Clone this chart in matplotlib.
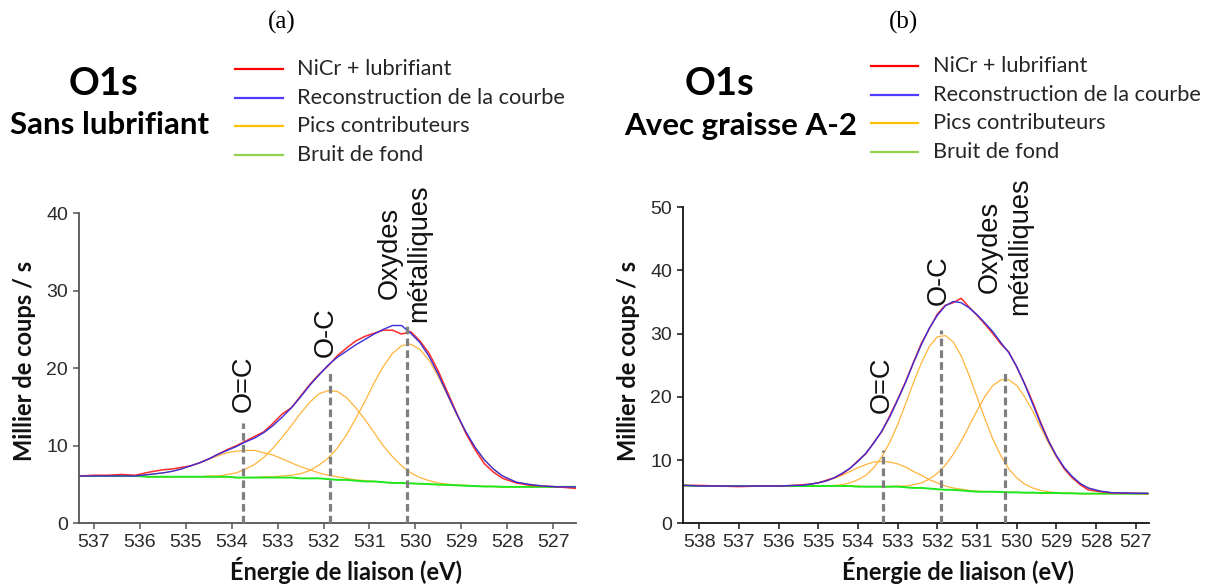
import matplotlib
matplotlib.use("Agg")
import matplotlib.pyplot as plt
from matplotlib.lines import Line2D

# ---- (a) sans lubrifiant : values ----
energy_a = [537.3, 537.0, 536.7, 536.4, 536.1, 535.8, 535.5, 535.3, 535.1, 534.9, 534.7, 534.5, 534.3,
            534.1, 533.9, 533.7, 533.5, 533.3, 533.1, 532.9, 532.7, 532.5, 532.3, 532.1, 531.9, 531.7,
            531.5, 531.3, 531.1, 530.9, 530.7, 530.5, 530.3, 530.1, 529.9, 529.7, 529.5, 529.3, 529.1,
            528.9, 528.7, 528.5, 528.3, 528.1, 527.8, 527.5, 527.2, 526.9, 526.5]
mesure_a = [6.1, 6.2, 6.2, 6.3, 6.2, 6.6, 6.9, 7.0, 7.2, 7.4, 7.8, 8.3, 8.9, 9.5, 10.0, 10.6, 11.2, 11.8,
            12.9, 14.1, 14.9, 16.4, 17.9, 19.2, 20.3, 21.6, 22.6, 23.5, 24.1, 24.5, 24.9, 24.9, 24.4, 24.7,
            23.5, 21.9, 19.6, 16.9, 14.2, 11.6, 9.5, 7.7, 6.6, 5.8, 5.2, 4.9, 4.8, 4.7, 4.5]
recon_a = [6.1, 6.1, 6.1, 6.1, 6.1, 6.3, 6.5, 6.7, 7.0, 7.4, 7.8, 8.3, 8.9, 9.4, 9.9, 10.5, 11.0, 11.7,
           12.6, 13.7, 14.9, 16.3, 17.8, 19.1, 20.4, 21.4, 22.2, 23.0, 23.7, 24.4, 25.0, 25.5, 25.5, 24.5,
           23.3, 21.5, 19.2, 16.6, 14.1, 11.8, 9.8, 8.2, 7.0, 6.1, 5.3, 5.0, 4.8, 4.7, 4.7]
pic_OdC_a = [6.1, 6.1, 6.1, 6.1, 6.1, 6.3, 6.5, 6.7, 7.0, 7.4, 7.8, 8.3, 8.7, 9.1, 9.3, 9.4, 9.4, 9.1,
             8.8, 8.3, 7.8, 7.3, 6.9, 6.5, 6.2, 6.0, 5.8, 5.6, 5.5, 5.4, 5.3, 5.2, 5.2, 5.15, 5.1, 5.05,
             5.0, 4.95, 4.9, 4.85, 4.8, 4.75, 4.75, 4.7, 4.7, 4.7, 4.7, 4.7, 4.7]
pic_OC_a = [6.1, 6.1, 6.1, 6.1, 6.1, 6.0, 6.0, 6.0, 6.0, 6.0, 6.0, 6.1, 6.1, 6.3, 6.5, 7.0, 7.6, 8.5,
            9.7, 11.1, 12.6, 14.2, 15.6, 16.7, 17.1, 17.0, 16.2, 14.9, 13.4, 11.7, 10.0, 8.6, 7.4, 6.5,
            5.9, 5.5, 5.2, 5.05, 4.95, 4.9, 4.8, 4.75, 4.75, 4.7, 4.7, 4.7, 4.7, 4.7, 4.7]
pic_ox_a = [6.1, 6.1, 6.1, 6.1, 6.1, 6.0, 6.0, 6.0, 6.0, 6.0, 6.0, 6.0, 6.0, 6.0, 5.9, 5.9, 5.9, 6.0,
            6.0, 6.1, 6.2, 6.4, 6.8, 7.5, 8.4, 9.7, 11.4, 13.5, 15.7, 18.1, 20.2, 21.9, 22.9, 23.1, 22.4,
            21.0, 18.9, 16.5, 14.0, 11.7, 9.8, 8.2, 7.0, 6.1, 5.3, 5.0, 4.8, 4.7, 4.7]
fond_a = [6.1, 6.1, 6.1, 6.1, 6.1, 6.0, 6.0, 6.0, 6.0, 6.0, 6.0, 6.0, 6.0, 6.0, 5.9, 5.9, 5.9, 5.9, 5.9,
          5.9, 5.9, 5.8, 5.8, 5.8, 5.7, 5.6, 5.6, 5.5, 5.4, 5.4, 5.3, 5.2, 5.2, 5.15, 5.1, 5.05, 5.0,
          4.95, 4.9, 4.85, 4.8, 4.75, 4.75, 4.7, 4.7, 4.7, 4.7, 4.7, 4.7]
pics_pos_a = [533.75, 531.85, 530.18]
pics_haut_a = [12.9, 19.8, 25.9]

# ---- (b) avec graisse A-2 ----
energy_b = [538.4, 538.0, 537.5, 537.0, 536.5, 536.0, 535.6, 535.4, 535.2, 535.0, 534.8, 534.6, 534.4,
            534.2, 534.0, 533.8, 533.6, 533.4, 533.2, 533.0, 532.8, 532.6, 532.4, 532.2, 532.0, 531.8,
            531.6, 531.4, 531.2, 531.0, 530.8, 530.6, 530.4, 530.2, 530.0, 529.8, 529.6, 529.4, 529.2,
            529.0, 528.8, 528.6, 528.4, 528.2, 527.9, 527.6, 527.3, 527.0, 526.7]
mesure_b = [6.0, 6.0, 5.9, 5.8, 5.9, 5.9, 6.0, 6.1, 6.2, 6.4, 6.8, 7.2, 7.8, 8.7, 9.9, 11.0, 12.8, 14.5,
            17.0, 19.6, 22.4, 25.5, 28.5, 30.8, 33.1, 34.5, 34.9, 35.6, 34.2, 32.9, 31.5, 30.0, 28.4, 27.1,
            24.7, 22.1, 19.2, 16.0, 13.1, 10.6, 8.6, 7.2, 6.1, 5.3, 5.0, 4.8, 4.8, 4.75, 4.7]
recon_b = [6.0, 5.9, 5.9, 5.9, 5.9, 5.9, 6.0, 6.0, 6.2, 6.4, 6.7, 7.2, 7.9, 8.7, 9.8, 11.1, 12.7, 14.6,
           16.8, 19.5, 22.3, 25.4, 28.3, 30.9, 32.9, 34.4, 35.1, 34.9, 34.1, 33.0, 31.7, 30.3, 28.6, 27.0,
           24.8, 22.0, 18.9, 15.8, 13.0, 10.7, 8.8, 7.4, 6.3, 5.6, 5.1, 4.85, 4.8, 4.75, 4.75]
pic_OdC_b = [6.0, 5.9, 5.9, 5.9, 5.9, 5.9, 6.0, 6.0, 6.2, 6.4, 6.7, 7.1, 7.6, 8.2, 8.8, 9.3, 9.7, 9.8,
             9.7, 9.4, 8.9, 8.2, 7.6, 6.9, 6.4, 5.9, 5.6, 5.4, 5.2, 5.1, 5.0, 5.0, 4.95, 4.9, 4.9, 4.85,
             4.85, 4.8, 4.8, 4.8, 4.75, 4.75, 4.7, 4.7, 4.7, 4.7, 4.7, 4.7, 4.7]
pic_OC_b = [6.0, 5.9, 5.9, 5.9, 5.9, 5.9, 5.9, 5.9, 5.9, 5.9, 5.9, 6.0, 6.1, 6.4, 6.9, 7.6, 8.8, 10.5,
            12.8, 15.6, 18.9, 22.3, 25.4, 28.0, 29.5, 29.7, 28.7, 26.5, 23.4, 20.0, 16.5, 13.3, 10.7, 8.6,
            7.2, 6.2, 5.6, 5.2, 5.0, 4.85, 4.8, 4.75, 4.7, 4.7, 4.7, 4.7, 4.7, 4.7, 4.7]
pic_ox_b = [6.0, 5.9, 5.9, 5.9, 5.9, 5.9, 5.9, 5.9, 5.9, 5.9, 5.9, 5.9, 5.9, 5.9, 5.9, 5.8, 5.8, 5.8,
            5.8, 5.9, 5.9, 6.1, 6.4, 7.0, 7.9, 9.2, 10.9, 13.0, 15.4, 17.8, 20.1, 21.8, 22.7, 22.7, 21.8,
            20.0, 17.8, 15.2, 12.7, 10.5, 8.7, 7.3, 6.3, 5.6, 5.1, 4.8, 4.7, 4.7, 4.7]
fond_b = [6.0, 5.9, 5.9, 5.9, 5.9, 5.9, 5.9, 5.9, 5.9, 5.9, 5.9, 5.9, 5.9, 5.9, 5.8, 5.8, 5.8, 5.8, 5.8,
          5.8, 5.7, 5.6, 5.6, 5.5, 5.4, 5.3, 5.3, 5.2, 5.1, 5.0, 5.0, 5.0, 4.95, 4.9, 4.9, 4.85, 4.85,
          4.8, 4.8, 4.8, 4.75, 4.75, 4.7, 4.7, 4.7, 4.7, 4.7, 4.7, 4.7]
pics_pos_b = [533.38, 531.9, 530.3]
pics_haut_b = [11.6, 30.6, 24.3]

leg_labels = ["NiCr + lubrifiant", "Reconstruction de la courbe", "Pics contributeurs", "Bruit de fond"]
leg_colors = ["#ff0000", "#4f3cff", "#ffc000", "#92d050"]

C_RED = "#ff2a2a"
C_BLUE = "#3a2ed8"
C_ORANGE = "#ffb43c"
C_GREEN = "#1ee81e"
TXT = "Lato"
NUM = "Liberation Sans"

W, H = 1213, 588
fig = plt.figure(figsize=(W / 100, H / 100), dpi=100)


def px(x, y):
    return x / W, 1 - y / H


def spectre(ax, e, mes, rec, pics, fond, spine_col):
    for p in pics:
        ax.plot(e, p, color=C_ORANGE, lw=0.9)
    ax.plot(e, fond, color=C_GREEN, lw=1.4)
    ax.plot(e, mes, color=C_RED, lw=1.1)
    ax.plot(e, rec, color=C_BLUE, lw=1.0)
    for s in ["top", "right"]:
        ax.spines[s].set_visible(False)
    for s in ["left", "bottom"]:
        ax.spines[s].set_color(spine_col)
        ax.spines[s].set_linewidth(1.3)
    ax.tick_params(colors=spine_col, length=4, width=1.1, labelsize=14, labelcolor="#2a2a2a", pad=4)


ax1 = fig.add_axes([0.0654, 0.110, 0.4095, 0.5277])
spectre(ax1, energy_a, mesure_a, recon_a, [pic_OdC_a, pic_OC_a, pic_ox_a], fond_a, "#555555")
ax1.set_xlim(537.32, 526.5)
ax1.set_ylim(0, 40)
ax1.set_xticks(range(537, 526, -1))
ax1.set_yticks([0, 10, 20, 30, 40])
ax1.vlines(pics_pos_a, 0, pics_haut_a, colors="#7f7f7f", lw=2.3, linestyles=(0, (2.4, 1.3)), zorder=5)

ax2 = fig.add_axes([0.5633, 0.110, 0.3842, 0.5375])
spectre(ax2, energy_b, mesure_b, recon_b, [pic_OdC_b, pic_OC_b, pic_ox_b], fond_b, "#111111")
ax2.set_xlim(538.4, 526.66)
ax2.set_ylim(0, 50)
ax2.set_xticks(range(538, 526, -1))
ax2.set_yticks([0, 10, 20, 30, 40, 50])
ax2.vlines(pics_pos_b, 0, pics_haut_b, colors="#7f7f7f", lw=2.3, linestyles=(0, (2.4, 1.3)), zorder=5)

for ax in [ax1, ax2]:
    for lab in ax.get_xticklabels() + ax.get_yticklabels():
        lab.set_fontfamily(NUM)

# peak names
kw = dict(rotation=90, fontsize=19.5, family=NUM, color="#111111", ha="center", va="bottom", clip_on=False)
ax1.text(533.74, 14.4, "O=C", **kw)
ax1.text(531.95, 21.4, "O-C", **kw)
ax1.text(530.24, 26.0, "Oxydes\nmétalliques", linespacing=1.2, **kw)
ax2.text(533.41, 17.4, "O=C", **kw)
ax2.text(531.97, 34.5, "O-C", **kw)
ax2.text(530.3, 32.9, "Oxydes\nmétalliques", linespacing=1.2, **kw)

# axis labels
for (x, y) in [(346, 571), (958, 571)]:
    fig.text(*px(x, y), "Énergie de liaison (eV)", family=TXT, fontweight="bold", fontsize=17,
             ha="center", va="center", color="#111111")
for (x, y) in [(25, 361), (629, 361)]:
    fig.text(*px(x, y), "Millier de coups / s", family=TXT, fontweight="bold", fontsize=17,
             rotation=90, ha="center", va="center", color="#111111")

# panel titles
fig.text(*px(282, 22), "(a)", family="Liberation Serif", fontsize=18, ha="center", va="center")
fig.text(*px(904, 22), "(b)", family="Liberation Serif", fontsize=18, ha="center", va="center")
fig.text(*px(103, 84), "O1s", family=TXT, fontweight="bold", fontsize=27.5, ha="center", va="center")
fig.text(*px(110, 125), "Sans lubrifiant", family=TXT, fontweight="bold", fontsize=22.5, ha="center", va="center")
fig.text(*px(720, 84), "O1s", family=TXT, fontweight="bold", fontsize=27.5, ha="center", va="center")
fig.text(*px(741, 126), "Avec graisse A-2", family=TXT, fontweight="bold", fontsize=22.5, ha="center", va="center")

# legends, drawn by hand like the slide
for (x0, x1, xt, ys) in [(235, 283, 297, [69, 98, 126, 155]), (871, 918, 933, [66, 95, 123, 152])]:
    for lab, col, y in zip(leg_labels, leg_colors, ys):
        fig.add_artist(Line2D([x0 / W, x1 / W], [1 - y / H, 1 - y / H], color=col, lw=1.6))
        fig.text(xt / W, 1 - y / H, lab, family=TXT, fontsize=15.7, color="#262626", ha="left", va="center")

fig.savefig("out.png", dpi=100)
